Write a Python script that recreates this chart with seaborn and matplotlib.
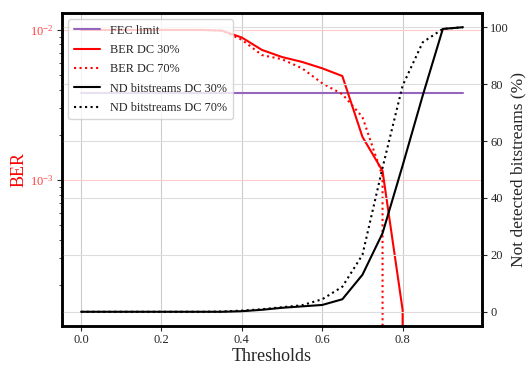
import numpy as np
import seaborn as sns
from matplotlib import pyplot as plt

# thresholds swept
thresholds = [0.0, 0.05, 0.1, 0.15, 0.2, 0.25, 0.3, 0.35, 0.4, 0.45,
              0.5, 0.55, 0.6, 0.65, 0.7, 0.75, 0.8, 0.85, 0.9, 0.95]

# bit error rate for both duty cycles
ber_dc30 = [0.01, 0.01, 0.01, 0.01, 0.01, 0.01, 0.01, 0.0099, 8.9e-3, 7.36e-3,
            6.6e-3, 6.12e-3, 5.55e-3, 4.93e-3, 1.94e-3, 1.15e-3, 1.36e-4, 0, 0, 0]
ber_dc70 = [0.01, 0.01, 0.01, 0.01, 0.01, 0.01, 0.01, 0.0099, 8.6e-3, 6.8e-3,
            6.38e-3, 5.55e-3, 4.41e-3, 3.73e-3, 2.63e-3, 1.06e-3, 0, 0, 0, 0]
fec_limit = 3.8e-3

# share of bitstreams not detected (%)
nd_dc30 = [0, 0, 0, 0, 0, 0, 0, 0, 0.2, 0.7,
           1.4, 1.9, 2.4, 4.4, 13.0, 27.6, 51.4, 76.0, 99.4, 100]
nd_dc70 = [0, 0, 0, 0, 0, 0, 0, 0.1, 0.4, 0.9,
           1.6, 2.3, 4.4, 8.8, 20.0, 50.6, 79.5, 94.7, 99.4, 100]

sns.set_style("ticks")
plt.rcParams['font.family'] = ['Liberation Serif', 'DejaVu Serif']
plt.rcParams['mathtext.fontset'] = 'stix'

fig, ax = plt.subplots(figsize=(5.28, 3.67), dpi=100)
fig.subplots_adjust(left=0.1174, right=0.9129, bottom=0.1117, top=0.9646)
ax2 = ax.twinx()

sns.lineplot(x=thresholds, y=[fec_limit] * len(thresholds), ax=ax,
             color='tab:purple', label='FEC limit', lw=1.5)
sns.lineplot(x=thresholds, y=ber_dc30, ax=ax, color='red',
             label='BER DC 30%', lw=1.5)
sns.lineplot(x=thresholds, y=ber_dc70, ax=ax, color='red', linestyle=':',
             label='BER DC 70%', lw=1.5)
sns.lineplot(x=thresholds, y=nd_dc30, ax=ax2, color='black',
             label='ND bitstreams DC 30%', lw=1.5)
sns.lineplot(x=thresholds, y=nd_dc70, ax=ax2, color='black', linestyle=':',
             label='ND bitstreams DC 70%', lw=1.5)

ax.set_yscale('log')
ax.set_ylim(10 ** -3.973, 10 ** -1.887)

ax.set_xlabel("Thresholds", fontsize=13, labelpad=1)
ax.set_ylabel("BER", color='red', fontsize=13, labelpad=2)
ax2.set_ylabel("Not detected bitstreams (%)", fontsize=12.5, labelpad=1)
ax.tick_params(axis='y', which='both', labelcolor='#ff4040', labelsize=9, pad=2.5)
ax.tick_params(axis='x', labelsize=9, pad=2.5)
ax2.tick_params(axis='y', labelsize=9, pad=2.5)

ax.grid(True, axis='x', color='#cccccc', lw=0.8)
ax.grid(True, axis='y', which='major', color='#ffcccc', lw=0.8)
ax2.grid(True, axis='y', color='#dddddd', lw=0.8)

for a in (ax, ax2):
    for s in a.spines.values():
        s.set_linewidth(1.8)
        s.set_color('black')

h1, l1 = ax.get_legend_handles_labels()
h2, l2 = ax2.get_legend_handles_labels()
ax.get_legend().remove()
ax2.legend(h1 + h2, l1 + l2, loc='upper left', fontsize=8.8,
           handlelength=2.2, handletextpad=0.8, labelspacing=0.6,
           borderpad=0.45)

plt.savefig("out.png", dpi=100)
